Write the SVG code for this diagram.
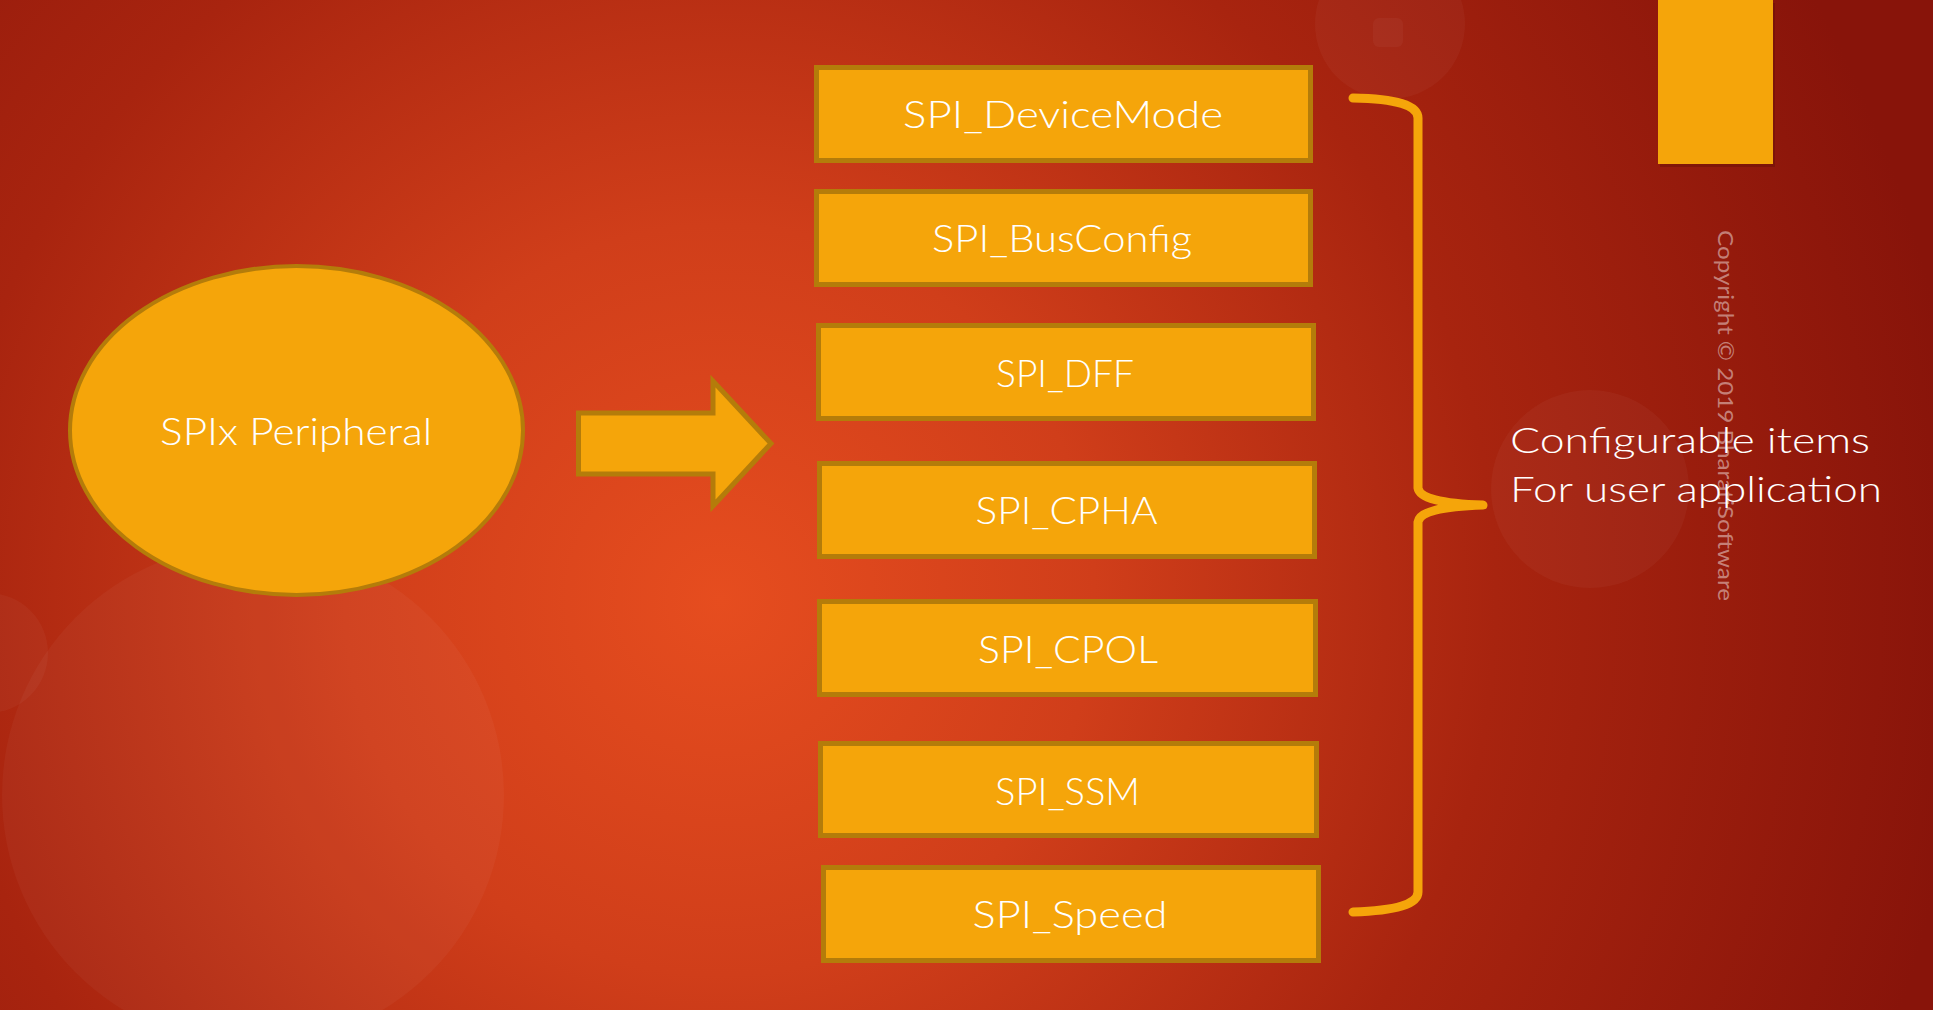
<svg xmlns="http://www.w3.org/2000/svg" width="1933" height="1010" viewBox="0 0 1933 1010">
  <defs>
    <radialGradient id="bg" gradientUnits="userSpaceOnUse" cx="720" cy="600" r="1250">
      <stop offset="0" stop-color="#E64D1F"/>
      <stop offset="0.3" stop-color="#D03E1A"/>
      <stop offset="0.62" stop-color="#A8240F"/>
      <stop offset="1" stop-color="#88140A"/>
    </radialGradient>
    <style>
      .box { fill: #F5A50A; stroke: #B47C0A; stroke-width: 5; }
      .lbl { font-family: Lato, "Liberation Sans", sans-serif; font-weight: 300; font-size: 38px; fill: #FFFFFF; text-anchor: middle; }
      .side { font-family: Lato, "Liberation Sans", sans-serif; font-weight: 300; font-size: 36px; fill: #FFFFFF; }
      .bubble { fill: #FFFFFF; fill-opacity: 0.035; }
    </style>
  </defs>

  <rect x="0" y="0" width="1933" height="1010" fill="url(#bg)"/>

  <g id="background-decor">
    <circle class="bubble" cx="253" cy="795" r="251"/>
    <circle class="bubble" cx="-12" cy="653" r="60"/>
    <circle class="bubble" cx="1390" cy="24" r="75"/>
    <rect class="bubble" x="1373" y="18" width="30" height="29" rx="6"/>
    <circle class="bubble" cx="1590" cy="489" r="99"/>
    <rect x="1660" y="3" width="115" height="164" fill="#5A0E05" opacity="0.35"/>
    <rect x="1658" y="0" width="115" height="164" fill="#F5A50A"/>
  </g>

  <g id="copyright">
    <text transform="translate(1718,230) rotate(90)" font-family="Lato, 'Liberation Sans', sans-serif" font-size="22" fill="#FFFFFF" fill-opacity="0.45" textLength="371" lengthAdjust="spacingAndGlyphs">Copyright © 2019 BharatiSoftware</text>
  </g>

  <g id="spix-peripheral">
    <ellipse cx="296.5" cy="430.5" rx="226.5" ry="164.5" fill="#F5A50A" stroke="#B47C0A" stroke-width="4"/>
    <text class="lbl" x="296" y="445" textLength="272" lengthAdjust="spacingAndGlyphs">SPIx Peripheral</text>
  </g>

  <g id="connectors">
    <polygon id="arrow" points="578.5,413 713,413 713,381 771,443.5 713,506 713,474 578.5,474" fill="#F5A50A" stroke="#B47C0A" stroke-width="5" stroke-linejoin="miter"/>
    <path id="brace" d="M1353,98 Q1418,99 1418,118 L1418,488 Q1420,503 1483,505 Q1420,507 1418,522 L1418,892 Q1418,910 1353,912" fill="none" stroke="#F5A50A" stroke-width="9" stroke-linecap="round" stroke-linejoin="round"/>
  </g>

  <g id="spi-devicemode">
    <rect class="box" x="816.5" y="67.5" width="494" height="93"/>
    <text class="lbl" x="1063" y="128" textLength="320" lengthAdjust="spacingAndGlyphs">SPI_DeviceMode</text>
  </g>
  <g id="spi-busconfig">
    <rect class="box" x="816.5" y="191.5" width="494" height="93"/>
    <text class="lbl" x="1062" y="252" textLength="260" lengthAdjust="spacingAndGlyphs">SPI_BusConfig</text>
  </g>
  <g id="spi-dff">
    <rect class="box" x="818.5" y="325.5" width="495" height="93"/>
    <text class="lbl" x="1065" y="386.5" textLength="138" lengthAdjust="spacingAndGlyphs">SPI_DFF</text>
  </g>
  <g id="spi-cpha">
    <rect class="box" x="819.5" y="463.5" width="495" height="93"/>
    <text class="lbl" x="1066.5" y="524" textLength="182" lengthAdjust="spacingAndGlyphs">SPI_CPHA</text>
  </g>
  <g id="spi-cpol">
    <rect class="box" x="819.5" y="601.5" width="496" height="93"/>
    <text class="lbl" x="1068" y="663" textLength="180" lengthAdjust="spacingAndGlyphs">SPI_CPOL</text>
  </g>
  <g id="spi-ssm">
    <rect class="box" x="820.5" y="743.5" width="496" height="92"/>
    <text class="lbl" x="1067.5" y="805" textLength="145" lengthAdjust="spacingAndGlyphs">SPI_SSM</text>
  </g>
  <g id="spi-speed">
    <rect class="box" x="823.5" y="867.5" width="495" height="93"/>
    <text class="lbl" x="1070" y="928" textLength="195" lengthAdjust="spacingAndGlyphs">SPI_Speed</text>
  </g>

  <g id="configurable-label">
    <text class="side" x="1510" y="453" textLength="360" lengthAdjust="spacingAndGlyphs">Configurable items</text>
    <text class="side" x="1510" y="502" textLength="372" lengthAdjust="spacingAndGlyphs">For user application</text>
  </g>
</svg>
